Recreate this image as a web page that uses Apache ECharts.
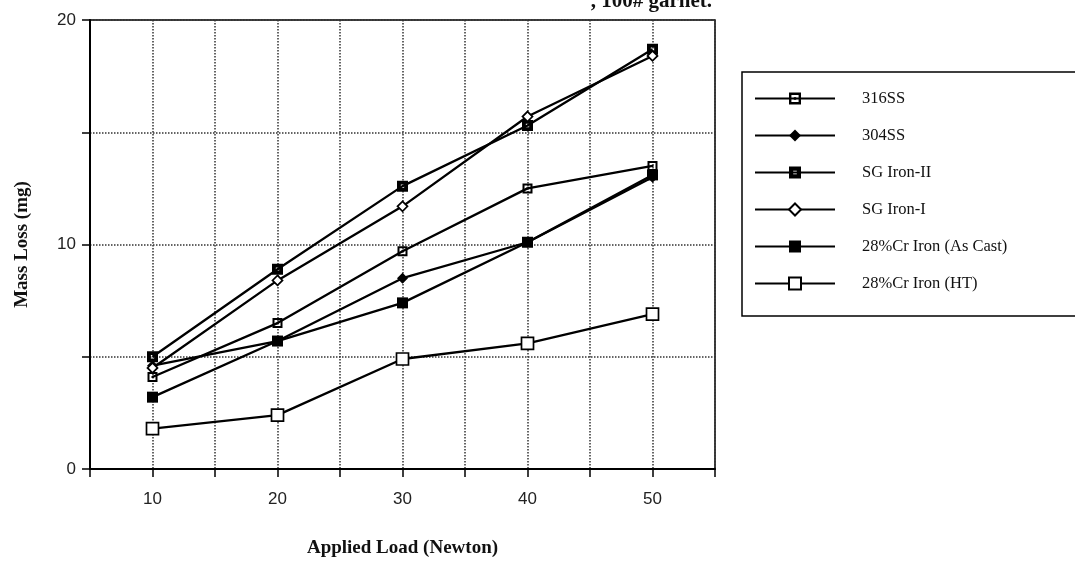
<!DOCTYPE html>
<html>
<head>
<meta charset="utf-8">
<script src="https://cdn.jsdelivr.net/npm/echarts@6/dist/echarts.min.js"></script>
<style>
  html, body { margin: 0; padding: 0; background: #fff; }
  #main { width: 1075px; height: 563px; }
</style>
</head>
<body>
<div id="main"></div>
<script>
// applied load (Newton)
var loads = [10, 20, 30, 40, 50];
// mass loss (mg)
var ss316 = [4.1, 6.5, 9.7, 12.5, 13.5];
var ss304 = [4.6, 5.7, 8.5, 10.1, 13.0];
var sgIron2 = [5.0, 8.9, 12.6, 15.3, 18.7];
var sgIron1 = [4.5, 8.4, 11.7, 15.7, 18.4];
var crAsCast = [3.2, 5.7, 7.4, 10.1, 13.1];
var crHT = [1.8, 2.4, 4.9, 5.6, 6.9];
var seriesNames = ['316SS', '304SS', 'SG Iron-II', 'SG Iron-I', '28%Cr Iron (As Cast)', '28%Cr Iron (HT)'];

// marker shapes
var sqDot = 'path://M0,0H10V10H0Z M2,2V8H8V2Z M4,4H6V6H4Z';
var sqDark = 'path://M0,0H10V10H0Z M3.5,3.5V6.5H6.5V3.5Z';

function pairs(vals) {
  return loads.map(function (x, i) { return [x, vals[i]]; });
}

function line(name, vals, symbol, size, fill) {
  return {
    name: name,
    type: 'line',
    data: pairs(vals),
    symbol: symbol,
    symbolSize: size,
    showAllSymbol: true,
    lineStyle: { color: '#000', width: 2.3 },
    itemStyle: { color: fill, borderColor: '#000', borderWidth: fill === '#fff' ? 1.7 : 0 },
    emphasis: { disabled: true }
  };
}

var chart = echarts.init(document.getElementById('main'));
chart.setOption({
  animation: false,
  title: {
    text: ', 100# garnet.',
    right: 358,
    top: -14,
    textStyle: { fontFamily: 'Liberation Serif', fontWeight: 'bold', fontSize: 21, color: '#111' }
  },
  grid: {
    left: 90, top: 20, right: 360, bottom: 85,
    show: true, borderColor: '#000', borderWidth: 1.5
  },
  legend: {
    orient: 'vertical',
    left: 742,
    top: 72,
    itemWidth: 80,
    itemHeight: 15,
    itemGap: 20,
    padding: [18, 300, 24, 12],
    borderColor: '#000',
    borderWidth: 1.5,
    data: seriesNames,
    textStyle: { fontFamily: 'Liberation Serif', fontSize: 16.5, color: '#111', padding: [0, 0, 0, 22] }
  },
  xAxis: {
    type: 'value',
    min: 5,
    max: 55,
    interval: 5,
    name: 'Applied Load (Newton)',
    nameLocation: 'middle',
    nameGap: 70,
    nameTextStyle: { fontFamily: 'Liberation Serif', fontWeight: 'bold', fontSize: 19, color: '#111' },
    axisLine: { lineStyle: { color: '#000', width: 2 } },
    axisTick: { length: 8, lineStyle: { color: '#000', width: 1.5 } },
    axisLabel: {
      margin: 22,
      fontFamily: 'Liberation Sans',
      fontSize: 17,
      color: '#222',
      formatter: function (v) { return v % 10 === 0 ? v : ''; }
    },
    splitLine: { show: true, lineStyle: { color: '#333', type: 'dotted', width: 1.5 } }
  },
  yAxis: {
    type: 'value',
    min: 0,
    max: 20,
    interval: 5,
    name: 'Mass Loss (mg)',
    nameLocation: 'middle',
    nameGap: 58,
    nameTextStyle: { fontFamily: 'Liberation Serif', fontWeight: 'bold', fontSize: 19, color: '#111' },
    axisLine: { show: true, lineStyle: { color: '#000', width: 2 } },
    axisTick: { show: true, length: 8, lineStyle: { color: '#000', width: 1.5 } },
    axisLabel: {
      margin: 14,
      fontFamily: 'Liberation Sans',
      fontSize: 17,
      color: '#222',
      formatter: function (v) { return v % 10 === 0 ? v : ''; }
    },
    splitLine: { show: true, lineStyle: { color: '#333', type: 'dotted', width: 1.5 } }
  },
  series: [
    line('316SS', ss316, sqDot, 10, '#000'),
    line('304SS', ss304, 'diamond', 11, '#000'),
    line('SG Iron-II', sgIron2, sqDark, 11, '#000'),
    line('SG Iron-I', sgIron1, 'diamond', 10, '#fff'),
    line('28%Cr Iron (As Cast)', crAsCast, 'rect', 11, '#000'),
    line('28%Cr Iron (HT)', crHT, 'rect', 12, '#fff')
  ]
});
</script>
</body>
</html>
